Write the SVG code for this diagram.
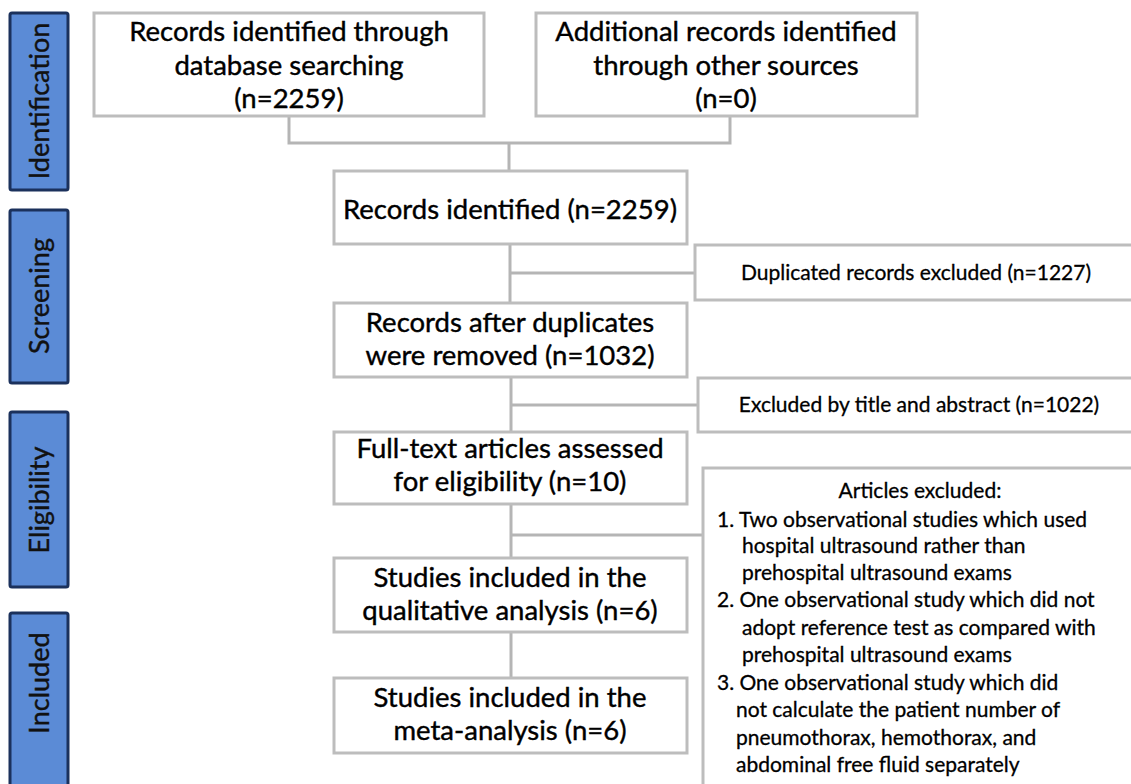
<svg xmlns="http://www.w3.org/2000/svg" width="1131" height="784" viewBox="0 0 1131 784">
<style>
.bar{fill:#5b8bd6;stroke:#1b315c;stroke-width:3}
.bt{font-family:Lato,"Open Sans",sans-serif;font-size:27px;fill:#111;stroke:#111;stroke-width:0.4;text-anchor:middle}
.box{fill:#fff;stroke:#bdbdbd;stroke-width:3}
.t{font-family:Lato,"Open Sans",sans-serif;font-size:27.5px;fill:#000;stroke:#000;stroke-width:0.4;text-anchor:middle}
.s{font-family:Lato,"Open Sans",sans-serif;font-size:21px;fill:#000;stroke:#000;stroke-width:0.3}
.c{fill:none;stroke:#b5b5b5;stroke-width:3}
</style>
<rect width="1131" height="784" fill="#fff"/>
<g id="stage-identification"><rect class="bar" x="10" y="13" width="58" height="177" rx="2"/><text class="bt" transform="translate(49,101) rotate(-90)">Identification</text></g>
<g id="stage-screening"><rect class="bar" x="10" y="210" width="58" height="173" rx="2"/><text class="bt" transform="translate(49,296) rotate(-90)">Screening</text></g>
<g id="stage-eligibility"><rect class="bar" x="10" y="412" width="58" height="175" rx="2"/><text class="bt" transform="translate(49,500) rotate(-90)">Eligibility</text></g>
<g id="stage-included"><rect class="bar" x="10" y="613" width="58" height="185" rx="2"/><text class="bt" transform="translate(49,683) rotate(-90)">Included</text></g>
<g id="connectors">
<path class="c" d="M289 116V143H730V116M509 143V171"/>
<path class="c" d="M510 244V303M510 273H695"/>
<path class="c" d="M511 377V432M511 405H698"/>
<path class="c" d="M511 504V558M511 535H703"/>
<path class="c" d="M511 632V678"/>
</g>
<g id="n1"><rect class="box" x="94" y="13" width="390" height="103"/><text class="t" x="289" y="41">Records identified through</text><text class="t" x="289" y="75">database searching</text><text class="t" x="289" y="108">(n=2259)</text></g>
<g id="n2"><rect class="box" x="536" y="13" width="381" height="103"/><text class="t" x="726" y="41">Additional records identified</text><text class="t" x="726" y="75">through other sources</text><text class="t" x="726" y="108">(n=0)</text></g>
<g id="n3"><rect class="box" x="334" y="171" width="353" height="73"/><text class="t" x="510" y="219">Records identified (n=2259)</text></g>
<g id="n4"><rect class="box" x="695" y="245" width="440" height="55"/><text class="s" x="916" y="280" text-anchor="middle">Duplicated records excluded (n=1227)</text></g>
<g id="n5"><rect class="box" x="334" y="303" width="353" height="74"/><text class="t" x="510" y="332">Records after duplicates</text><text class="t" x="510" y="365">were removed (n=1032)</text></g>
<g id="n6"><rect class="box" x="698" y="378" width="437" height="54"/><text class="s" x="919" y="412" text-anchor="middle">Excluded by title and abstract (n=1022)</text></g>
<g id="n7"><rect class="box" x="334" y="432" width="353" height="72"/><text class="t" x="510" y="458">Full-text articles assessed</text><text class="t" x="510" y="491">for eligibility (n=10)</text></g>
<g id="n8"><rect class="box" x="703" y="468" width="432" height="330"/>
<text class="s" x="920" y="498" text-anchor="middle">Articles excluded:</text>
<text class="s" x="717" y="527">1. Two observational studies which used</text>
<text class="s" x="742" y="553">hospital ultrasound rather than</text>
<text class="s" x="742" y="580">prehospital ultrasound exams</text>
<text class="s" x="717" y="607">2. One observational study which did not</text>
<text class="s" x="742" y="635">adopt reference test as compared with</text>
<text class="s" x="742" y="662">prehospital ultrasound exams</text>
<text class="s" x="717" y="690">3. One observational study which did</text>
<text class="s" x="736" y="717">not calculate the patient number of</text>
<text class="s" x="736" y="745">pneumothorax, hemothorax, and</text>
<text class="s" x="736" y="772">abdominal free fluid separately</text>
</g>
<g id="n9"><rect class="box" x="334" y="558" width="353" height="74"/><text class="t" x="510" y="587">Studies included in the</text><text class="t" x="510" y="620">qualitative analysis (n=6)</text></g>
<g id="n10"><rect class="box" x="334" y="678" width="353" height="75"/><text class="t" x="510" y="707">Studies included in the</text><text class="t" x="510" y="740">meta-analysis (n=6)</text></g>
</svg>
